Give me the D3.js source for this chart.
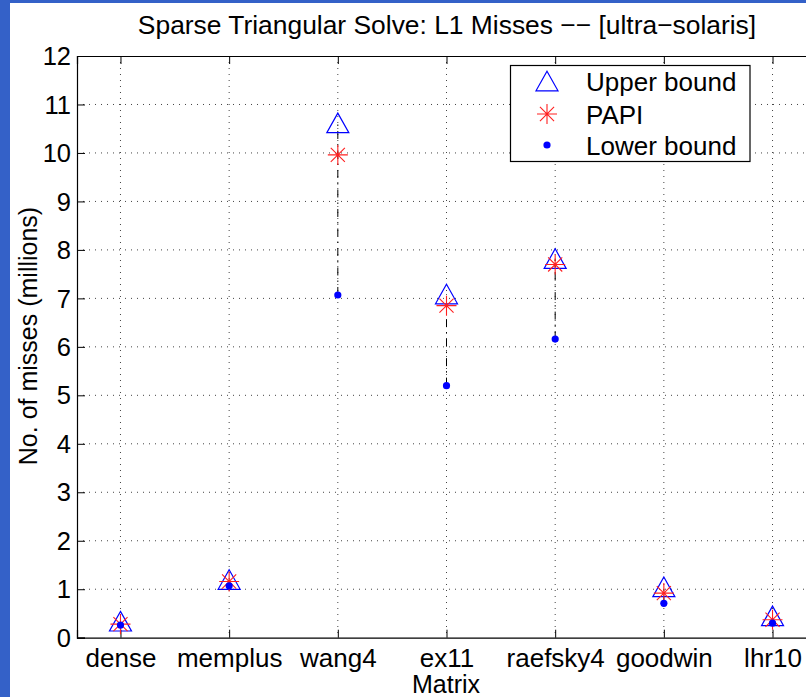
<!DOCTYPE html>
<html>
<head>
<meta charset="utf-8">
<script src="https://cdn.jsdelivr.net/npm/d3@7"></script>
<style>
  html, body { margin: 0; padding: 0; background: #ffffff; }
  svg { display: block; }
  text { font-family: "Liberation Sans", Arial, Helvetica, sans-serif; fill: #000; }
</style>
</head>
<body>
<svg id="chart" width="806" height="697"></svg>
<script>
// Matrices on the x axis
const matrices = ["dense", "memplus", "wang4", "ex11", "raefsky4", "goodwin", "lhr10"];
// L1 misses in millions
const upperBound = [0.34, 1.20, 10.62, 7.09, 7.82, 1.05, 0.45];
const papi       = [0.28, 1.16, 9.96, 6.85, 7.70, 0.92, 0.37];
const lowerBound = [0.26, 1.07, 7.07, 5.20, 6.16, 0.71, 0.30];
const yTicks = [0, 1, 2, 3, 4, 5, 6, 7, 8, 9, 10, 11, 12];
const seriesNames = ["Upper bound", "PAPI", "Lower bound"];

const W = 806, H = 697;
const FS = 26;
const svg = d3.select("#chart");

// frame
svg.append("rect").attr("width", W).attr("height", H).attr("fill", "#3461c8");
svg.append("rect").attr("x", 10).attr("y", 3).attr("width", W - 10).attr("height", H - 3).attr("fill", "#ffffff");

const plotL = 77, plotT = 56, plotB = 637.7, plotR = 816;
const x = d3.scaleLinear().domain([0.6, 7.4]).range([plotL, plotR]);
const y = d3.scaleLinear().domain([0, 12]).range([plotB, plotT]);
const xi = i => x(i + 1);

const g = svg.append("g");

// dotted grid
const grid = g.append("g").attr("stroke", "#444").attr("stroke-width", 1).attr("stroke-dasharray", "1,5");
grid.selectAll("line.h").data(yTicks.filter(t => t > 0 && t < 12)).join("line").attr("class", "h")
  .attr("x1", plotL).attr("x2", plotR).attr("y1", d => y(d)).attr("y2", d => y(d));
grid.selectAll("line.v").data(matrices).join("line").attr("class", "v")
  .attr("x1", (d, i) => xi(i)).attr("x2", (d, i) => xi(i)).attr("y1", plotT).attr("y2", plotB);

// axes with inward ticks
const axL = d3.axisLeft(y).tickValues(yTicks).tickFormat(d3.format("d")).tickSize(-8).tickPadding(6);
const axB = d3.axisBottom(x).tickValues(matrices.map((d, i) => i + 1)).tickFormat((d, i) => matrices[i]).tickSize(-8).tickPadding(9);
const axT = d3.axisTop(x).tickValues(matrices.map((d, i) => i + 1)).tickFormat("").tickSize(-8);

function styleAxis(sel) {
  sel.select(".domain").attr("stroke", "#000").attr("stroke-width", 1.2);
  sel.selectAll(".tick line").attr("stroke", "#000").attr("stroke-width", 1);
  sel.selectAll(".tick text").attr("font-size", 25.5).attr("fill", "#000")
     .attr("font-family", "'Liberation Sans', Arial, Helvetica, sans-serif");
}
g.append("g").attr("transform", `translate(${plotL},0)`).call(axL).call(styleAxis)
  .selectAll(".tick text").attr("dy", "0.34em");
g.append("g").attr("transform", `translate(0,${plotB})`).call(axB).call(styleAxis)
  .selectAll(".tick text").attr("y", 29).attr("dy", 0).attr("font-size", FS);
g.append("g").attr("transform", `translate(0,${plotT})`).call(axT).call(styleAxis);

// range lines from lower to upper bound
g.append("g").selectAll("line").data(matrices).join("line")
  .attr("x1", (d, i) => xi(i)).attr("x2", (d, i) => xi(i))
  .attr("y1", (d, i) => y(lowerBound[i])).attr("y2", (d, i) => y(upperBound[i]))
  .attr("stroke", "#000").attr("stroke-width", 1).attr("stroke-dasharray", "8,5,1.5,5");

// marker shapes
const triPath = (cx, cy) => {
  const hw = 11, hh = 9.8;
  return `M${cx},${cy - hh}L${cx + hw},${cy + hh}L${cx - hw},${cy + hh}Z`;
};
const starPath = (cx, cy) => {
  const r = 10, d = r * Math.SQRT1_2;
  return `M${cx - r},${cy}L${cx + r},${cy}M${cx},${cy - r}L${cx},${cy + r}` +
         `M${cx - d},${cy - d}L${cx + d},${cy + d}M${cx - d},${cy + d}L${cx + d},${cy - d}`;
};

g.append("g").selectAll("path").data(upperBound).join("path")
  .attr("d", (v, i) => triPath(xi(i), y(v)))
  .attr("fill", "none").attr("stroke", "#0000ff").attr("stroke-width", 1.2);
g.append("g").selectAll("path").data(papi).join("path")
  .attr("d", (v, i) => starPath(xi(i), y(v)))
  .attr("fill", "none").attr("stroke", "#ff2020").attr("stroke-width", 1.1);
g.append("g").selectAll("circle").data(lowerBound).join("circle")
  .attr("cx", (v, i) => xi(i)).attr("cy", v => y(v)).attr("r", 3.6).attr("fill", "#0000ff");

// legend
const lg = svg.append("g");
lg.append("rect").attr("x", 510.5).attr("y", 65.5).attr("width", 239.5).attr("height", 96)
  .attr("fill", "#fff").attr("stroke", "#000").attr("stroke-width", 1.2);
const legY = [81, 114, 145];
lg.append("path").attr("d", triPath(547, legY[0])).attr("fill", "none").attr("stroke", "#0000ff").attr("stroke-width", 1.2);
lg.append("path").attr("d", starPath(547, legY[1])).attr("fill", "none").attr("stroke", "#ff2020").attr("stroke-width", 1.1);
lg.append("circle").attr("cx", 547).attr("cy", legY[2]).attr("r", 3.6).attr("fill", "#0000ff");
lg.selectAll("text").data(seriesNames).join("text")
  .attr("x", 586).attr("y", (d, i) => legY[i] + 10).attr("font-size", FS).text(d => d);

// titles
svg.append("text").attr("x", 447).attr("y", 34).attr("text-anchor", "middle").attr("font-size", 26.4)
  .text("Sparse Triangular Solve: L1 Misses \u2212\u2212 [ultra\u2212solaris]");
svg.append("text").attr("x", 446).attr("y", 693).attr("text-anchor", "middle").attr("font-size", 25)
  .text("Matrix");
svg.append("text").attr("transform", "translate(37,336) rotate(-90)").attr("text-anchor", "middle")
  .attr("font-size", 25).text("No. of misses (millions)");
</script>
</body>
</html>
